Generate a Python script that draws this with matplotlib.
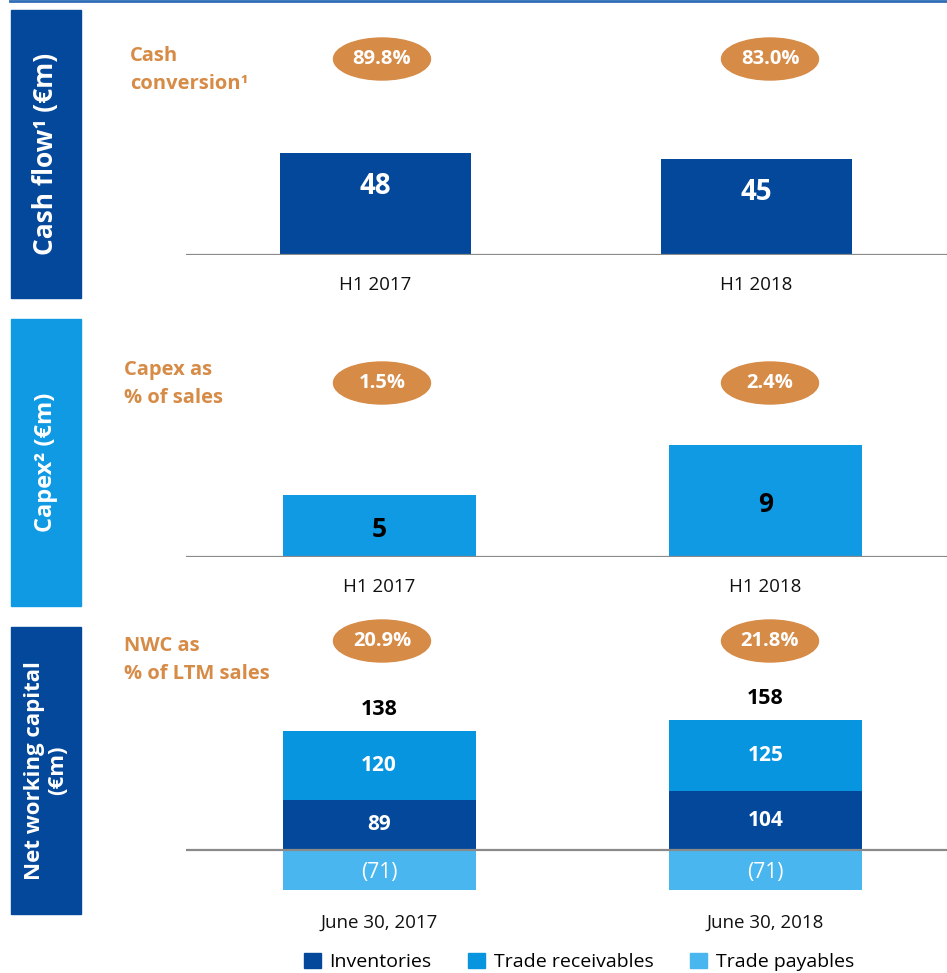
import matplotlib.pyplot as plt
from matplotlib.patches import Rectangle, Ellipse, Patch
from matplotlib.lines import Line2D

plt.rcParams['font.family'] = ['Open Sans', 'DejaVu Sans']

# data
cf_periods = ['H1 2017', 'H1 2018']
cash_flow = [48, 45]
cash_conversion = ['89.8%', '83.0%']

capex_periods = ['H1 2017', 'H1 2018']
capex = [5, 9]
capex_pct = ['1.5%', '2.4%']

nwc_dates = ['June 30, 2017', 'June 30, 2018']
inventories = [89, 104]
receivables = [120, 125]
payables = [-71, -71]
nwc_pct = ['20.9%', '21.8%']

DARK = '#03489B'
CAPEX = '#119AE4'
RECV = '#0795E0'
PAY = '#49B6EF'
ORANGE = '#D68B47'
GREY = '#8A8A8A'

W, H = 947, 973
fig = plt.figure(figsize=(W / 100, H / 100), dpi=100)


def fx(px):
    return px / W


def fy(py):
    return 1 - py / H


def add_ax(top, bottom, xlim=(-0.5, 1.47)):
    ax = fig.add_axes([fx(186), fy(bottom), fx(947) - fx(186), fy(top) - fy(bottom)])
    for s in ax.spines.values():
        s.set_visible(False)
    ax.set_yticks([])
    ax.tick_params(axis='x', length=0, labelsize=13.5, colors='#111111')
    ax.set_xlim(*xlim)
    return ax


def side_box(top, bottom, color, text, size):
    fig.patches.append(Rectangle((fx(11), fy(bottom)), fx(81) - fx(11), fy(top) - fy(bottom),
                                 transform=fig.transFigure, color=color, zorder=0))
    fig.text(fx(46), (fy(top) + fy(bottom)) / 2, text, rotation=90, ha='center', va='center',
             color='white', fontsize=size, fontweight='bold', linespacing=1.1)


def pct_ellipses(ax, ycen, h, labels):
    # the ovals sit at the same page position in every panel
    x0, x1 = ax.get_xlim()
    for px, lab in zip([382, 770], labels):
        xc = x0 + (px - 186) / 761 * (x1 - x0)
        ax.add_patch(Ellipse((xc, ycen), 97 / 761 * (x1 - x0), h, color=ORANGE,
                             clip_on=False, zorder=3))
        ax.text(xc, ycen, lab, ha='center', va='center', color='white', fontsize=14.5,
                fontweight='bold', zorder=4)


# top rule
fig.add_artist(Line2D([fx(10), 1], [fy(1), fy(1)], color='#2F6DB5', lw=2))

# ---- Cash flow ----
side_box(10, 298, DARK, 'Cash flow¹ (€m)', 19)
ax1 = add_ax(10, 255, xlim=(-0.497, 1.5))
ax1.set_ylim(0, 245 / 2.125)
ax1.bar([0, 1], cash_flow, width=0.5, color=DARK, zorder=2)
ax1.axhline(0, color=GREY, lw=1.6, zorder=3)
for i, v in enumerate(cash_flow):
    ax1.annotate(str(v), (i, v), xytext=(0, -24), textcoords='offset points',
                 ha='center', va='center', color='white', fontsize=20, fontweight='bold')
ax1.set_xticks([0, 1], cf_periods)
ax1.tick_params(axis='x', pad=15)
pct_ellipses(ax1, (255 - 59) / 2.125, 42 / 2.125, cash_conversion)
fig.text(fx(130), fy(70), 'Cash\nconversion¹', ha='left', va='center', color=ORANGE,
         fontsize=14.5, fontweight='bold', linespacing=1.5)

# ---- Capex ----
side_box(319, 606, CAPEX, 'Capex² (€m)', 17)
ax2 = add_ax(319, 557)
ax2.set_ylim(0, 238 / 12.5)
ax2.bar([0, 1], capex, width=0.5, color=CAPEX, zorder=2)
ax2.axhline(0, color=GREY, lw=1.6, zorder=3)
for i, v in enumerate(capex):
    ax2.annotate(str(v), (i, v / 2), xytext=(0, -3), textcoords='offset points',
                 ha='center', va='center', color='black', fontsize=19, fontweight='bold')
ax2.set_xticks([0, 1], capex_periods)
ax2.tick_params(axis='x', pad=15)
pct_ellipses(ax2, (557 - 383) / 12.5, 42 / 12.5, capex_pct)
fig.text(fx(124), fy(384), 'Capex as\n% of sales', ha='left', va='center', color=ORANGE,
         fontsize=14.5, fontweight='bold', linespacing=1.5)

# ---- Net working capital ----
side_box(627, 914, DARK, 'Net working capital\n(€m)', 16)
k = 0.567
ax3 = add_ax(627, 900)
ax3.set_ylim(-(900 - 850) / k, (850 - 627) / k)
ax3.bar([0, 1], inventories, width=0.5, color=DARK, zorder=2)
ax3.bar([0, 1], receivables, bottom=inventories, width=0.5, color=RECV, zorder=2)
ax3.bar([0, 1], payables, width=0.5, color=PAY, zorder=2)
ax3.axhline(0, color=GREY, lw=1.6, zorder=3)
for i in range(2):
    inv, rec, pay = inventories[i], receivables[i], payables[i]
    ax3.text(i, inv / 2, str(inv), ha='center', va='center', color='white', fontsize=15,
             fontweight='bold')
    ax3.text(i, inv + rec / 2, str(rec), ha='center', va='center', color='white', fontsize=15,
             fontweight='bold')
    ax3.annotate('(%d)' % -pay, (i, pay / 2), xytext=(0, -2), textcoords='offset points',
                 ha='center', va='center', color='white', fontsize=15)
    total = inv + rec + pay
    ax3.annotate(str(total), (i, inv + rec), xytext=(0, 8), textcoords='offset points',
                 ha='center', va='bottom', color='black', fontsize=15.5, fontweight='bold')
ax3.set_xticks([0, 1], nwc_dates)
ax3.tick_params(axis='x', pad=10)
pct_ellipses(ax3, (850 - 641) / k, 42 / k, nwc_pct)
fig.text(fx(124), fy(660), 'NWC as\n% of LTM sales', ha='left', va='center', color=ORANGE,
         fontsize=14.5, fontweight='bold', linespacing=1.5)

handles = [Patch(color=DARK, label='Inventories'),
           Patch(color=RECV, label='Trade receivables'),
           Patch(color=PAY, label='Trade payables')]
fig.legend(handles=handles, loc='center', bbox_to_anchor=(fx(579), fy(962)), ncol=3,
           frameon=False, fontsize=14, handlelength=0.85, handleheight=0.85,
           handletextpad=0.45, columnspacing=1.9)

fig.savefig('out.png', dpi=100)
